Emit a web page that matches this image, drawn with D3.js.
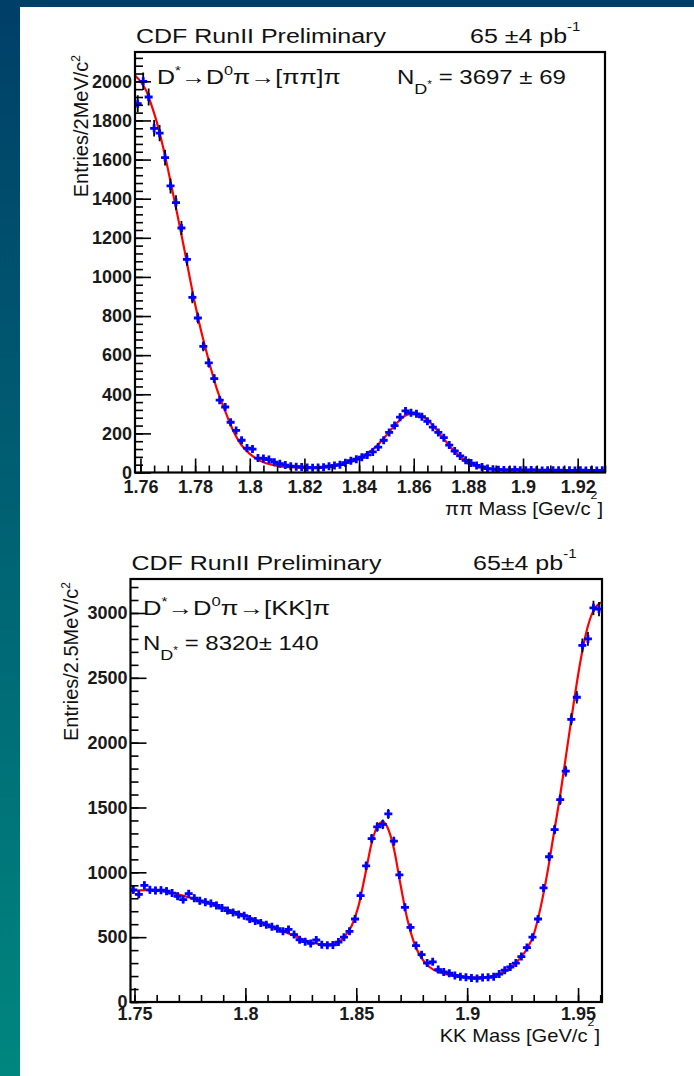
<!DOCTYPE html>
<html>
<head>
<meta charset="utf-8">
<script src="https://cdn.jsdelivr.net/npm/d3@7"></script>
<style>
  body { margin: 0; background: #fff; }
  svg { display: block; font-family: "Liberation Sans", Arial, Helvetica, sans-serif; }
</style>
</head>
<body>
<svg id="page" width="694" height="1076"></svg>
<script>
// ---------- values ----------

// pi pi spectrum, 2 MeV bins starting at 1.758
const pipiBinStart = 1.758;
const pipiBinWidth = 0.002;
const pipiCounts = [
  1886, 2000, 1920, 1760, 1735, 1610, 1465, 1380, 1250, 1090,
  895, 790, 645, 560, 480, 370, 335, 257, 215, 165,
  125, 120, 74, 72, 66, 53, 45, 38, 32, 30,
  28, 26, 24, 25, 27, 32, 36, 40, 50, 60,
  68, 78, 90, 105, 130, 165, 205, 240, 283, 315,
  305, 300, 285, 262, 232, 205, 178, 140, 110, 85,
  62, 48, 36, 28, 20, 17, 14, 13, 12, 14,
  12, 11, 13, 12, 10, 12, 11, 12, 10, 11,
  10, 12, 10, 11, 10, 11
];
// fitted curve (mass, entries)
const pipiFit = [
  [1.758, 2030], [1.760, 2000], [1.762, 1955], [1.764, 1880], [1.766, 1790],
  [1.768, 1680], [1.770, 1555], [1.772, 1420], [1.774, 1285], [1.776, 1145],
  [1.778, 1000], [1.780, 860], [1.782, 735], [1.784, 625], [1.786, 520],
  [1.788, 425], [1.790, 350], [1.792, 278], [1.794, 212], [1.796, 160],
  [1.798, 122], [1.800, 95], [1.803, 66], [1.806, 47], [1.810, 34],
  [1.815, 27], [1.820, 24], [1.825, 25], [1.830, 31], [1.834, 42],
  [1.838, 60], [1.842, 88], [1.846, 130], [1.850, 190], [1.853, 240],
  [1.856, 282], [1.859, 300], [1.862, 295], [1.865, 268], [1.868, 225],
  [1.871, 172], [1.874, 122], [1.877, 82], [1.880, 53], [1.883, 34],
  [1.886, 23], [1.890, 16], [1.900, 13], [1.915, 12], [1.930, 12]
];
const pipiXTicks = [1.76, 1.78, 1.80, 1.82, 1.84, 1.86, 1.88, 1.90, 1.92];
const pipiYTicks = [0, 200, 400, 600, 800, 1000, 1200, 1400, 1600, 1800, 2000];

// K K spectrum, 2.5 MeV bins starting at 1.7482
const kkBinStart = 1.7482;
const kkBinWidth = 0.0025;
const kkCounts = [
  865, 830, 900, 865, 860, 862, 855, 840, 815, 790,
  835, 800, 780, 770, 760, 745, 725, 705, 690, 675,
  665, 640, 625, 610, 595, 580, 565, 545, 560, 520,
  480, 465, 452, 478, 442, 438, 440, 462, 500, 545,
  640, 820, 1050, 1260, 1350, 1370, 1450, 1240, 980, 730,
  575, 435, 365, 300, 310, 250, 232, 222, 205, 195,
  190, 185, 182, 188, 190, 195, 215, 245, 270, 300,
  350, 420, 500, 640, 880, 1120, 1330, 1560, 1780, 2180,
  2350, 2750, 2800, 3040, 3030
];
const kkFit = [
  [1.7482, 858], [1.755, 862], [1.760, 858], [1.765, 848], [1.770, 828],
  [1.775, 805], [1.780, 780], [1.785, 755], [1.790, 727], [1.795, 697],
  [1.800, 665], [1.805, 630], [1.810, 595], [1.815, 560], [1.820, 525],
  [1.825, 490], [1.830, 460], [1.835, 443], [1.840, 450], [1.8445, 500],
  [1.848, 590], [1.851, 740], [1.854, 980], [1.857, 1230], [1.860, 1370],
  [1.862, 1390], [1.864, 1350], [1.867, 1180], [1.870, 900], [1.873, 640],
  [1.876, 460], [1.879, 350], [1.883, 270], [1.888, 225], [1.893, 205],
  [1.898, 195], [1.903, 190], [1.908, 192], [1.913, 205], [1.918, 245],
  [1.923, 320], [1.927, 410], [1.930, 520], [1.933, 720], [1.936, 980],
  [1.939, 1290], [1.942, 1600], [1.945, 1950], [1.948, 2300], [1.951, 2620],
  [1.954, 2870], [1.957, 3020], [1.9605, 3080]
];
const kkXTicks = [1.75, 1.80, 1.85, 1.90, 1.95];
const kkYTicks = [0, 500, 1000, 1500, 2000, 2500, 3000];


/** One ROOT-style histogram pad: points with errors, fit curve, inward ticks. */
class MassPlot {

    /**
     * @param svg   the page svg
     * @param opts  layout + data for this pad
     */
    constructor(svg, opts) {
        this.svg = svg;
        this.o = opts;
        this.g = svg.append("g");
        this.x = d3.scaleLinear().domain(opts.xDomain).range([opts.left, opts.right]);
        this.y = d3.scaleLinear().domain(opts.yDomain).range([opts.bottom, opts.top]);
    }

    // small helper for text made of pieces (super/sub scripts)
    rich(x, y, parts, size, sx, anchor, rotate) {
        let tr = "translate(" + x + "," + y + ")";
        if (rotate) tr += " rotate(-90)";
        if (sx && sx != 1) tr += " scale(" + sx + ",1)";
        let t = this.g.append("text")
            .attr("transform", tr)
            .attr("font-size", size)
            .attr("text-anchor", anchor || "start")
            .attr("fill", "#111");
        parts.forEach(p => {
            let s = t.append("tspan").text(p.t);
            if (p.dy) s.attr("dy", p.dy);
            if (p.size) s.attr("font-size", p.size);
        });
        return t;
    }

    minorValues(domain, step) {
        let k0 = Math.ceil(domain[0] / step - 1e-6), k1 = Math.floor(domain[1] / step + 1e-6);
        return d3.range(k0, k1 + 1).map(k => +(k * step).toFixed(6));
    }

    draw() {
        let o = this.o, x = this.x, y = this.y, g = this.g;

        let clipId = "clip-" + o.name;
        g.append("clipPath").attr("id", clipId)
            .append("rect")
            .attr("x", o.left).attr("y", o.top)
            .attr("width", o.right - o.left).attr("height", o.bottom - o.top);

        let plot = g.append("g").attr("clip-path", "url(#" + clipId + ")");

        // fit curve
        let line = d3.line()
            .x(d => x(d[0]))
            .y(d => y(d[1]))
            .curve(d3.curveMonotoneX);
        plot.append("path")
            .datum(o.fit)
            .attr("d", line)
            .attr("fill", "none")
            .attr("stroke", "#ff0000")
            .attr("stroke-width", 2.2);

        // histogram points
        let pts = o.counts.map((c, i) => ({
            lo: o.binStart + i * o.binWidth,
            hi: o.binStart + (i + 1) * o.binWidth,
            m: o.binStart + (i + 0.5) * o.binWidth,
            v: c,
            e: Math.sqrt(c)
        }));

        let bars = plot.append("g").attr("stroke", "#000").attr("stroke-width", 1.8);
        bars.selectAll("line.ey").data(pts).enter().append("line")
            .attr("class", "ey")
            .attr("x1", d => x(d.m)).attr("x2", d => x(d.m))
            .attr("y1", d => y(d.v - d.e)).attr("y2", d => y(d.v + d.e));
        bars.selectAll("line.ex").data(pts).enter().append("line")
            .attr("class", "ex")
            .attr("x1", d => x(d.lo)).attr("x2", d => x(d.hi))
            .attr("y1", d => y(d.v)).attr("y2", d => y(d.v));

        plot.append("g").selectAll("path").data(pts).enter().append("path")
            .attr("d", "M-4,0H4M0,-4V4")
            .attr("transform", d => "translate(" + x(d.m) + "," + y(d.v) + ")")
            .attr("stroke", "#0000ff")
            .attr("stroke-width", 2.8)
            .attr("fill", "none");

        // axes, ticks pointing into the frame
        let styleAxis = sel => {
            sel.select(".domain").remove();
            sel.selectAll(".tick line").attr("stroke", "#000").attr("stroke-width", 1.6);
            sel.selectAll("text").attr("fill", "#1a1a1a");
            sel.attr("font-family", null).attr("font-size", o.tickFont).attr("font-weight", "bold");
        };

        g.append("g")
            .attr("transform", "translate(0," + o.bottom + ")")
            .call(d3.axisBottom(x).tickValues(this.minorValues(o.xDomain, o.xMinor)).tickSize(-7).tickFormat(""))
            .call(styleAxis);
        g.append("g")
            .attr("transform", "translate(0," + o.bottom + ")")
            .call(d3.axisBottom(x).tickValues(o.xTicks).tickSize(-14).tickPadding(o.xPad).tickFormat(d3.format("~g")))
            .call(styleAxis);

        g.append("g")
            .attr("transform", "translate(" + o.left + ",0)")
            .call(d3.axisLeft(y).tickValues(this.minorValues(o.yDomain, o.yMinor)).tickSize(-8).tickFormat(""))
            .call(styleAxis);
        g.append("g")
            .attr("transform", "translate(" + o.left + ",0)")
            .call(d3.axisLeft(y).tickValues(o.yTicks).tickSize(-16).tickPadding(3).tickFormat(d3.format("d")))
            .call(styleAxis);

        // frame
        g.append("rect")
            .attr("x", o.left).attr("y", o.top)
            .attr("width", o.right - o.left).attr("height", o.bottom - o.top)
            .attr("fill", "none")
            .attr("stroke", "#000")
            .attr("stroke-width", 2.2);

        // texts
        this.rich(o.left + 1, o.top - 9, [{t: "CDF RunII Preliminary"}], 20, 1.25);
        this.rich(o.lumiX, o.top - 9, [{t: o.lumiText}, {t: "-1", size: 12, dy: -12}], 20, 1.25);
        this.rich(o.decayX, o.decayY, [
            {t: "D"}, {t: "*", size: 12, dy: -9}, {t: "\u2192D", dy: 9},
            {t: "0", size: 13, dy: -9}, {t: "\u03c0\u2192[" + o.pair + "]\u03c0", dy: 9}
        ], 20, o.decaySx);
        this.rich(o.yieldX, o.yieldY, [
            {t: "N"}, {t: "D", size: 15, dy: 10}, {t: "*", size: 10, dy: -6},
            {t: o.yieldText, dy: -4}
        ], 20, o.yieldSx);

        this.rich(o.right - 2, o.xTitleY, [
            {t: o.xTitle}, {t: "2", size: 11, dy: -16}, {t: "]", dy: 16}
        ], 18, 1.12, "end");
        this.rich(o.yTitleX, o.top + 3, [
            {t: o.yTitle}, {t: "2", size: 12, dy: -8}
        ], 20, 1, "end", true);
    }
}


let svg = d3.select("#page");

// slide background: dark strip on the left and along the top
let defs = svg.append("defs");
let grad = defs.append("linearGradient").attr("id", "leftStrip")
    .attr("x1", 0).attr("y1", 0).attr("x2", 0).attr("y2", 1);
grad.append("stop").attr("offset", "0%").attr("stop-color", "#003f68");
grad.append("stop").attr("offset", "100%").attr("stop-color", "#00867f");

svg.append("rect").attr("x", 0).attr("y", 0).attr("width", 694).attr("height", 1076).attr("fill", "#fff");
svg.append("rect").attr("x", 0).attr("y", 0).attr("width", 20).attr("height", 1076).attr("fill", "url(#leftStrip)");
svg.append("rect").attr("x", 0).attr("y", 0).attr("width", 694).attr("height", 7).attr("fill", "#003f68");

new MassPlot(svg, {
    name: "pipi",
    left: 135, right: 605, top: 52, bottom: 472.5,
    xDomain: [1.758, 1.93], yDomain: [0, 2150],
    xTicks: pipiXTicks, yTicks: pipiYTicks, xMinor: 0.005, yMinor: 40,
    xPad: 8, tickFont: 18,
    counts: pipiCounts, binStart: pipiBinStart, binWidth: pipiBinWidth, fit: pipiFit,
    lumiX: 470, lumiText: "65 \u00b14 pb",
    decayX: 157, decayY: 84, decaySx: 1.25, pair: "\u03c0\u03c0",
    yieldX: 397, yieldY: 84, yieldSx: 1.2, yieldText: " = 3697 \u00b1 69",
    xTitle: "\u03c0\u03c0 Mass [Gev/c", xTitleY: 515,
    yTitle: "Entries/2MeV/c", yTitleX: 88
}).draw();

new MassPlot(svg, {
    name: "kk",
    left: 130.5, right: 602, top: 579, bottom: 1002,
    xDomain: [1.7482, 1.9608], yDomain: [0, 3262],
    xTicks: kkXTicks, yTicks: kkYTicks, xMinor: 0.01, yMinor: 100,
    xPad: 5, tickFont: 18,
    counts: kkCounts, binStart: kkBinStart, binWidth: kkBinWidth, fit: kkFit,
    lumiX: 473, lumiText: "65\u00b14 pb",
    decayX: 143, decayY: 615, decaySx: 1.28, pair: "KK",
    yieldX: 143, yieldY: 650, yieldSx: 1.2, yieldText: " = 8320\u00b1 140",
    xTitle: "KK Mass [GeV/c", xTitleY: 1042,
    yTitle: "Entries/2.5MeV/c", yTitleX: 78
}).draw();
</script>
</body>
</html>
